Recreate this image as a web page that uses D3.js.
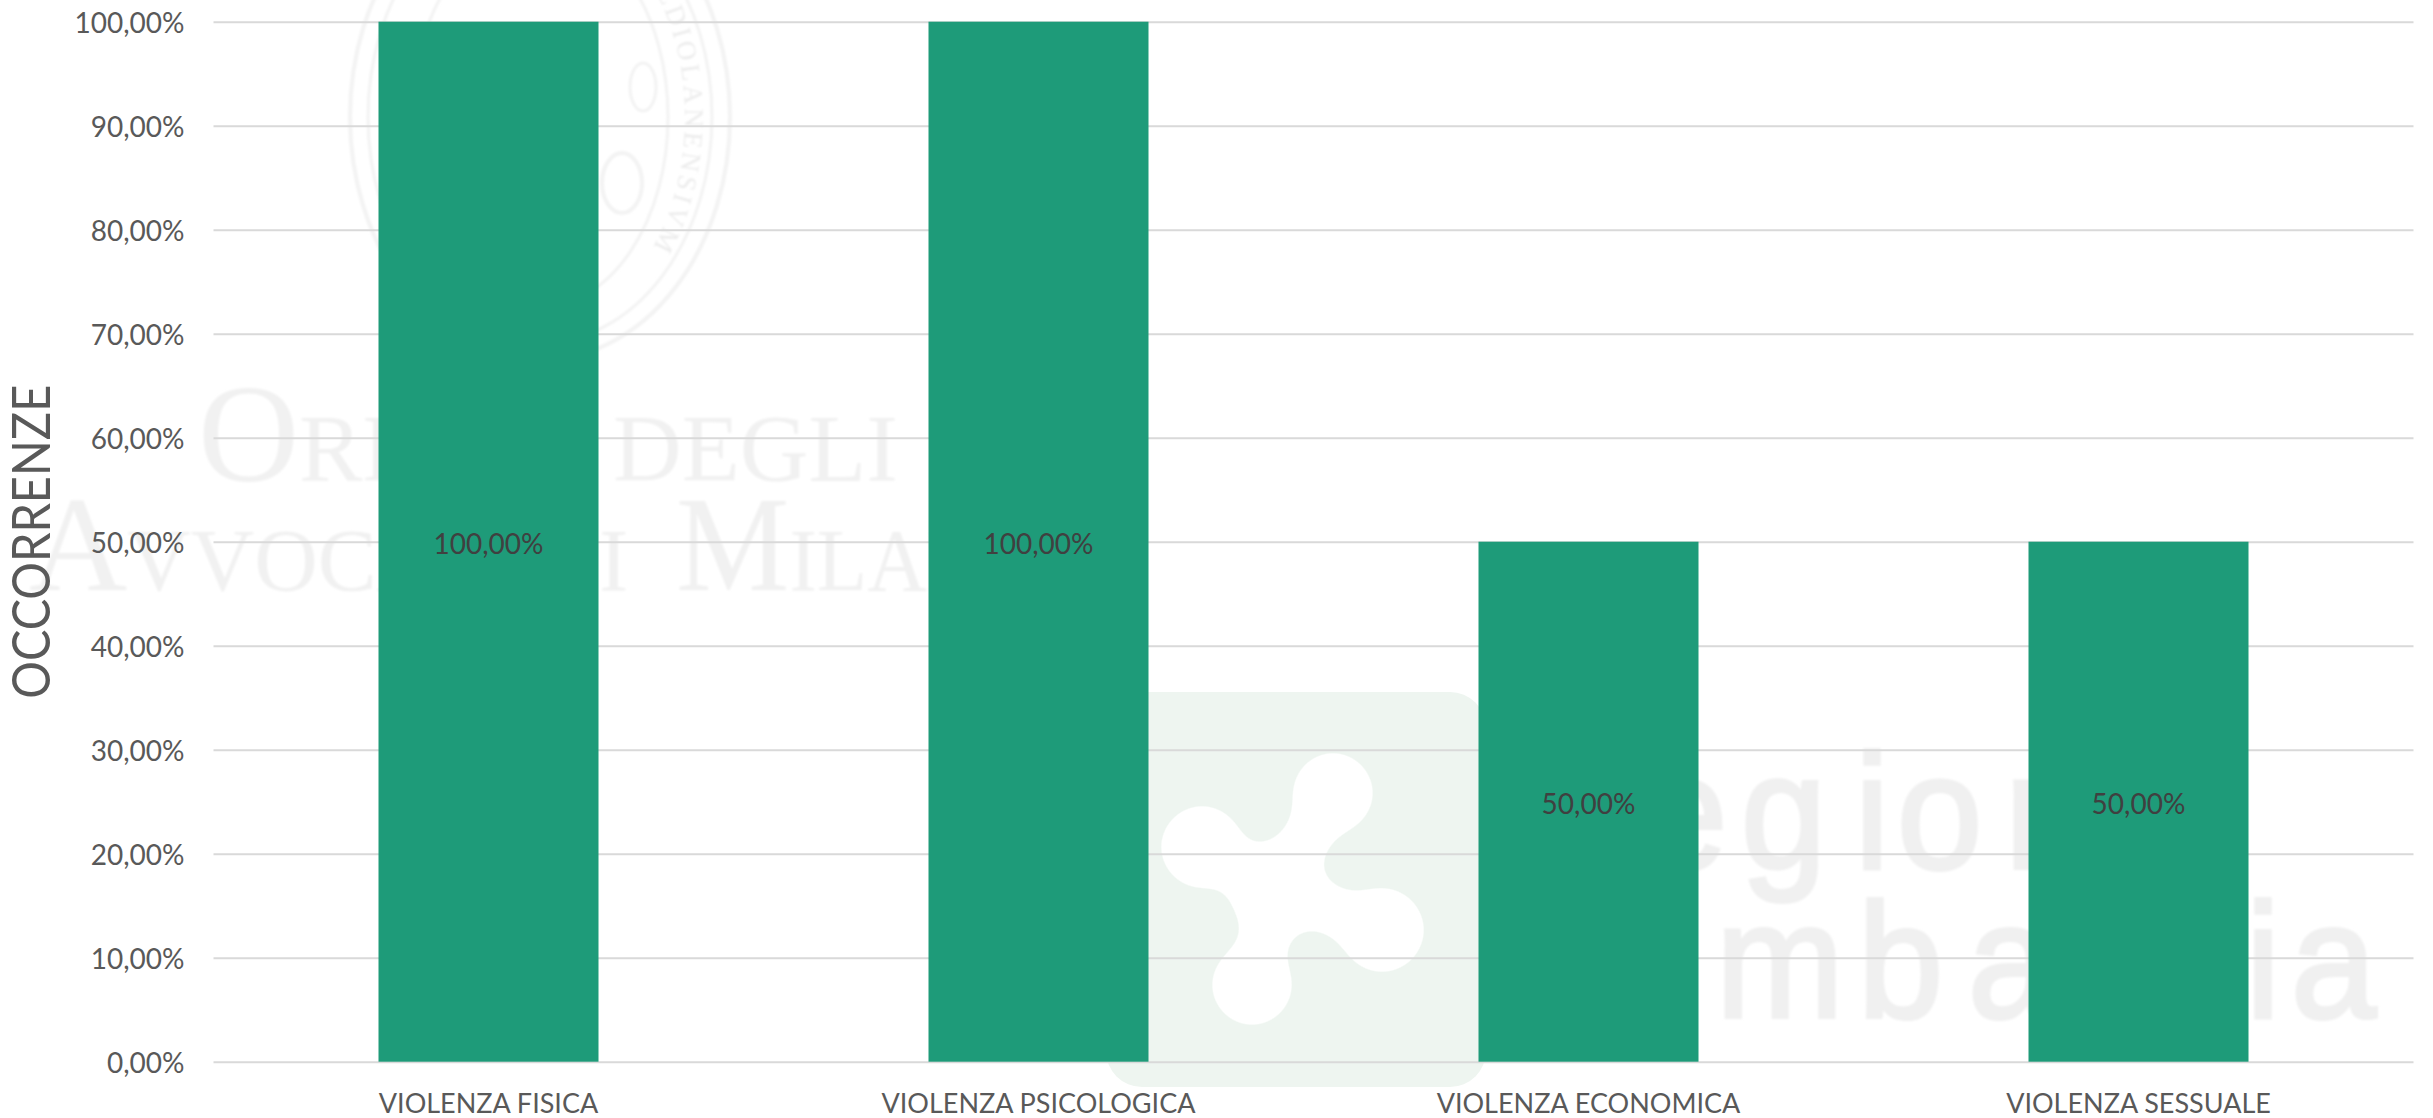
<!DOCTYPE html>
<html lang="it">
<head>
<meta charset="utf-8">
<title>Occorrenze</title>
<script src="https://cdn.jsdelivr.net/npm/d3@7"></script>
<style>
html,body{margin:0;padding:0;background:#fff;overflow:hidden}
svg{display:block}
text{font-family:Lato,"Open Sans",sans-serif}
.wm-serif{font-family:"Liberation Serif",serif;fill:#f1f1f1}
.wm-sans{font-family:"Liberation Sans",sans-serif;fill:#f0f0f0;stroke:#f0f0f0;stroke-width:4}
.axis .domain{display:none}
</style>
</head>
<body>
<svg id="chart" width="2433" height="1118"></svg>
<script>
const categories = ["VIOLENZA FISICA", "VIOLENZA PSICOLOGICA", "VIOLENZA ECONOMICA", "VIOLENZA SESSUALE"];
const values = [1, 1, 0.5, 0.5];
const yTicks = [0, 0.1, 0.2, 0.3, 0.4, 0.5, 0.6, 0.7, 0.8, 0.9, 1];
const yTitle = "OCCORRENZE";

const m = {left: 213.5, right: 2413.5, top: 21.7, bottom: 1061.7};
const svg = d3.select("#chart");

const itLocale = d3.formatLocale({decimal: ",", thousands: ".", grouping: [3], currency: ["", " €"]});
const pct = itLocale.format(".2%");

const x = d3.scaleBand().domain(categories).range([m.left, m.right]).paddingInner(0.6).paddingOuter(0.3);
const y = d3.scaleLinear().domain([0, 1]).range([m.bottom, m.top]);

/* ---------- background watermark (decorative) ---------- */
const defs = svg.append("defs");
defs.append("filter").attr("id", "soft").append("feGaussianBlur").attr("stdDeviation", 1);
const goo = defs.append("filter").attr("id", "goo")
  .attr("x", "-20%").attr("y", "-20%").attr("width", "140%").attr("height", "140%");
goo.append("feGaussianBlur").attr("in", "SourceGraphic").attr("stdDeviation", 13);
goo.append("feColorMatrix").attr("values", "1 0 0 0 0  0 1 0 0 0  0 0 1 0 0  0 0 0 24 -11");
defs.append("path").attr("id", "sealArc")
  .attr("d", "M540,-91 A145,208 0 0 1 685,117 A145,208 0 0 1 540,325 A145,208 0 0 1 395,117");

const wm = svg.append("g").attr("class", "watermark");

// seal of the bar association
const seal = wm.append("g").attr("fill", "none").attr("stroke", "#f3f3f3").attr("filter", "url(#soft)");
seal.append("ellipse").attr("cx", 540).attr("cy", 117).attr("rx", 190).attr("ry", 243).attr("stroke-width", 4);
seal.append("ellipse").attr("cx", 540).attr("cy", 117).attr("rx", 172).attr("ry", 226).attr("stroke-width", 3);
seal.append("ellipse").attr("cx", 540).attr("cy", 117).attr("rx", 128).attr("ry", 190).attr("stroke-width", 3);
seal.append("ellipse").attr("cx", 643).attr("cy", 87).attr("rx", 13).attr("ry", 24).attr("stroke-width", 3);
seal.append("ellipse").attr("cx", 622).attr("cy", 183).attr("rx", 20).attr("ry", 30).attr("stroke-width", 4);
wm.append("text").attr("class", "wm-serif").attr("font-size", 27).attr("letter-spacing", 3.5)
  .attr("filter", "url(#soft)").style("fill", "#ececec")
  .append("textPath").attr("href", "#sealArc").attr("startOffset", "14.5%")
  .text("MEDIOLANENSIVM");

// "Ordine degli Avvocati di Milano"
const serif = wm.append("g").attr("filter", "url(#soft)");
const line1 = serif.append("text").attr("class", "wm-serif").attr("x", 198).attr("y", 481).attr("font-size", 95);
line1.append("tspan").attr("font-size", 140).text("O");
line1.append("tspan").text("RDINE DEGLI");
const line2a = serif.append("text").attr("class", "wm-serif").attr("x", 29).attr("y", 590).attr("font-size", 88);
line2a.append("tspan").attr("font-size", 136).text("A");
line2a.append("tspan").text("VVOCATI DI");
const line2b = serif.append("text").attr("class", "wm-serif").attr("x", 676).attr("y", 590).attr("font-size", 88)
  .attr("textLength", 370).attr("lengthAdjust", "spacingAndGlyphs");
line2b.append("tspan").attr("font-size", 136).text("M");
line2b.append("tspan").text("ILANO");

// Regione Lombardia logo
wm.append("rect").attr("x", 1106).attr("y", 692).attr("width", 380).attr("height", 395).attr("rx", 36).attr("fill", "#eef5f0");
const hub = [1277, 889];
const lobes = [[1333, 793, 41], [1202, 847, 42], [1382, 930, 43], [1252, 985, 41]];
const logo = wm.append("g").attr("fill", "#ffffff").attr("stroke", "#ffffff").attr("filter", "url(#goo)");
logo.selectAll("line").data(lobes).join("line")
  .attr("x1", hub[0]).attr("y1", hub[1]).attr("x2", d => d[0]).attr("y2", d => d[1]).attr("stroke-width", 46);
logo.append("circle").attr("cx", hub[0]).attr("cy", hub[1]).attr("r", 48).attr("stroke", "none");
logo.selectAll("circle.lobe").data(lobes).join("circle").attr("class", "lobe")
  .attr("cx", d => d[0]).attr("cy", d => d[1]).attr("r", d => d[2]).attr("stroke", "none");

const sx = 0.94;
const scaled = a => a.map(v => (v / sx).toFixed(1)).join(" ");
const reg = wm.append("g").attr("transform", `scale(${sx},1)`).attr("font-size", 163).attr("filter", "url(#soft)");
reg.append("text").attr("class", "wm-sans").attr("y", 868)
  .attr("x", scaled([1590, 1642, 1741, 1855, 1897, 2005, 2110])).text("regione");
reg.append("text").attr("class", "wm-sans").attr("y", 1017)
  .attr("x", scaled([1540, 1590, 1716, 1858, 1968, 2085, 2130, 2246, 2291])).text("lombardia");

/* ---------- grid and axes ---------- */
const yAxis = svg.append("g").attr("class", "axis y").attr("transform", `translate(${m.left},0)`)
  .call(d3.axisLeft(y).tickValues(yTicks).tickFormat(pct).tickSize(-(m.right - m.left)).tickPadding(29));
yAxis.selectAll("line").attr("stroke", "#d9d9d9").attr("stroke-width", 2);
yAxis.selectAll("text").attr("fill", "#595959").attr("font-size", 28).attr("font-family", "Lato").attr("dy", "0.4em");

const xAxis = svg.append("g").attr("class", "axis x").attr("transform", `translate(0,${m.bottom})`)
  .call(d3.axisBottom(x).tickSize(0).tickPadding(32));
xAxis.selectAll("text").attr("fill", "#595959").attr("font-size", 27).attr("font-family", "Lato").attr("dy", "0.71em");

/* ---------- bars ---------- */
svg.append("g").selectAll("rect").data(categories).join("rect")
  .attr("x", d => x(d)).attr("width", x.bandwidth())
  .attr("y", (d, i) => y(values[i])).attr("height", (d, i) => y(0) - y(values[i]))
  .attr("fill", "#1e9b79");

/* ---------- data labels ---------- */
svg.append("g").selectAll("text").data(categories).join("text")
  .attr("x", d => x(d) + x.bandwidth() / 2)
  .attr("y", (d, i) => (y(values[i]) + y(0)) / 2 + 12.5)
  .attr("text-anchor", "middle").attr("font-size", 28).attr("fill", "#404040")
  .text((d, i) => pct(values[i]));

/* ---------- y title ---------- */
svg.append("text")
  .attr("transform", `translate(50,${(y(0) + y(1)) / 2}) rotate(-90)`)
  .attr("text-anchor", "middle").attr("font-size", 52).attr("fill", "#595959")
  .attr("textLength", 314).attr("lengthAdjust", "spacingAndGlyphs")
  .text(yTitle);
</script>
</body>
</html>
